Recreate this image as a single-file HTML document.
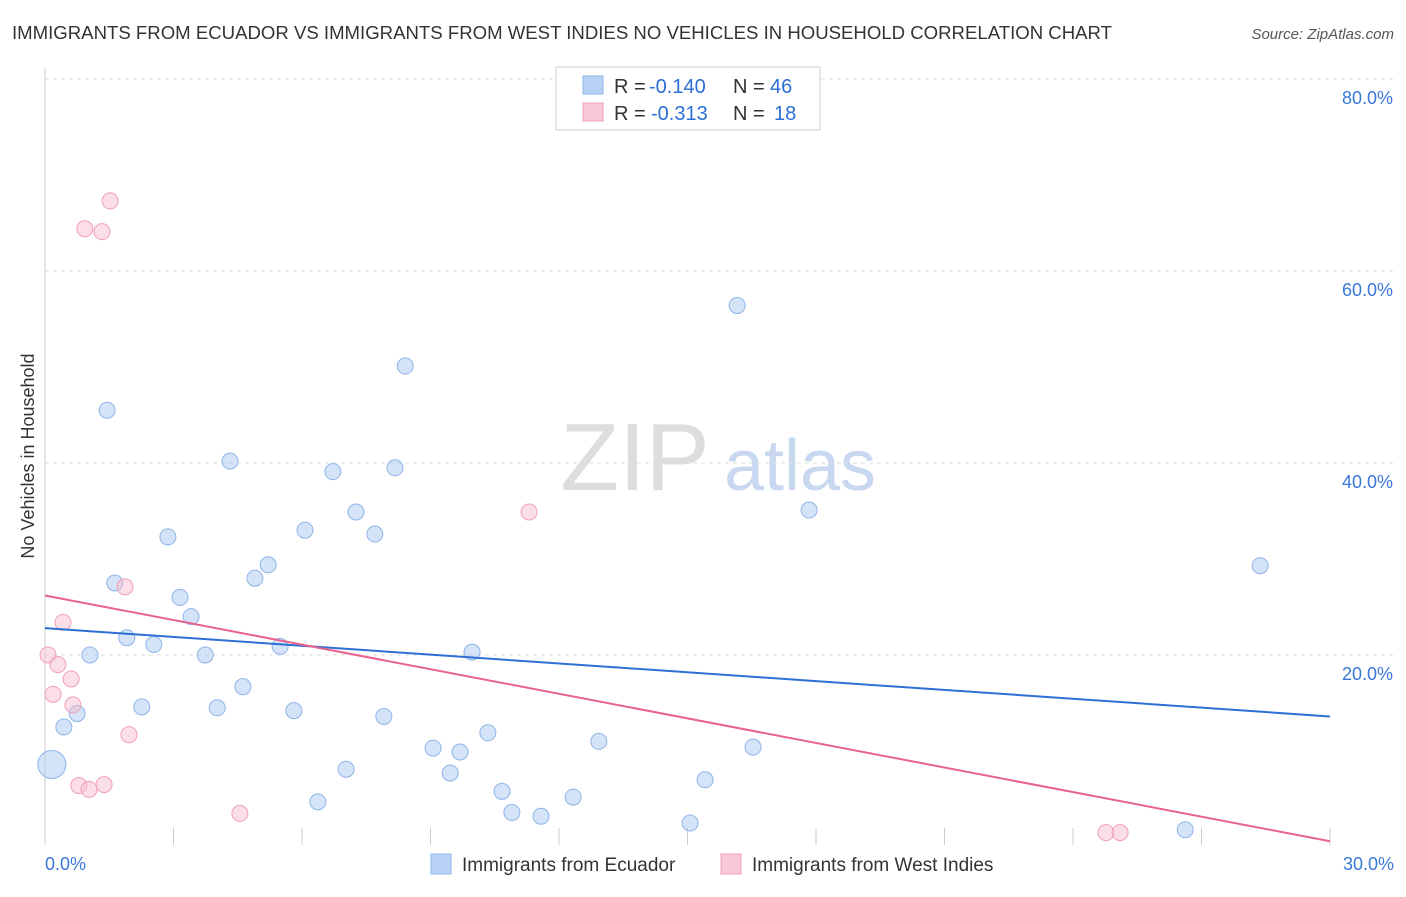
<!DOCTYPE html>
<html><head><meta charset="utf-8"><style>
body{margin:0;background:#fff;font-family:"Liberation Sans",sans-serif;}
svg text{font-family:"Liberation Sans",sans-serif;}
</style></head><body>
<svg id="chart" width="1406" height="892">
<text x="12" y="39" font-size="18" fill="#333" textLength="1100" lengthAdjust="spacingAndGlyphs">IMMIGRANTS FROM ECUADOR VS IMMIGRANTS FROM WEST INDIES NO VEHICLES IN HOUSEHOLD CORRELATION CHART</text>
<text x="1394" y="39" font-size="15" fill="#555" font-style="italic" text-anchor="end">Source: ZipAtlas.com</text>
<text x="34" y="456" font-size="18" fill="#333" text-anchor="middle" transform="rotate(-90 34 456)">No Vehicles in Household</text>
<g><text x="635" y="490" font-size="96" fill="#ddd" font-family="Liberation Serif" text-anchor="middle">ZIP</text><text x="800" y="490" font-size="72" fill="#c8d8f0" text-anchor="middle">atlas</text></g>
<g id="grid"></g><g id="marks"></g>
<g>
<rect x="556" y="67" width="264" height="63" fill="#fff" stroke="#ccc"/>
<rect x="583" y="76" width="20" height="18" fill="#b8d2f5" stroke="#8fb5e8"/>
<rect x="583" y="103" width="20" height="18" fill="#f9c8d6" stroke="#f0a0b8"/>
<text x="614" y="93" font-size="20" fill="#333">R =</text>
<text x="649" y="93" font-size="20" fill="#2c6fd6">-0.140</text>
<text x="733" y="93" font-size="20" fill="#333">N =</text>
<text x="770" y="93" font-size="20" fill="#2c6fd6">46</text>
<text x="614" y="120" font-size="20" fill="#333">R =</text>
<text x="651" y="120" font-size="20" fill="#2c6fd6">-0.313</text>
<text x="733" y="120" font-size="20" fill="#333">N =</text>
<text x="774" y="120" font-size="20" fill="#2c6fd6">18</text>
</g>
<g>
<rect x="431" y="854" width="20" height="20" fill="#b8d2f5" stroke="#8fb5e8"/>
<text x="462" y="871" font-size="19" fill="#333">Immigrants from Ecuador</text>
<rect x="721" y="854" width="20" height="20" fill="#f9c8d6" stroke="#f0a0b8"/>
<text x="752" y="871" font-size="19" fill="#333">Immigrants from West Indies</text>
</g>
</svg>
<script>
const blueX=[1.45,4.32,2.87,1.63,1.91,2.54,1.05,3.15,3.41,3.74,4.90,5.21,5.49,4.02,4.62,2.26,0.75,0.44,0.16,5.81,6.07,6.72,7.26,7.70,8.17,8.41,7.91,7.03,6.37,9.06,9.69,9.46,9.97,10.34,10.67,10.90,11.58,12.33,12.93,15.06,15.41,16.16,16.53,17.84,26.62,28.37];
const blueY=[45.5,40.2,32.3,27.5,21.8,21.1,20.0,26.0,24.0,20.0,28.0,29.4,20.9,14.5,16.7,14.6,13.9,12.5,8.6,14.2,33.0,39.1,34.9,32.6,39.5,50.1,13.6,8.1,4.7,10.3,9.9,7.7,20.3,11.9,5.8,3.6,3.2,5.2,11.0,2.5,7.0,56.4,10.4,35.1,1.8,29.3];
const pinkX=[1.52,0.93,1.33,11.30,1.87,0.42,0.07,0.30,0.61,0.19,0.65,1.96,0.79,1.03,1.38,4.55,24.77,25.10];
const pinkY=[67.3,64.4,64.1,34.9,27.1,23.4,20.0,19.0,17.5,15.9,14.8,11.7,6.4,6.0,6.5,3.5,1.5,1.5];
const blueTrend=[22.8,13.6];
const pinkTrend=[26.2,0.6];
const yTicks=[20,40,60,80];
const xTickLabels=["0.0%","30.0%"];
const X0=45,X1=1330,Y0=847,PX=(X1-X0)/30,PY=9.6;
const sx=v=>X0+v*PX, sy=v=>Y0-v*PY;
const NS="http://www.w3.org/2000/svg";
function mk(tag,attrs,parent){const e=document.createElementNS(NS,tag);for(const k in attrs)e.setAttribute(k,attrs[k]);parent.appendChild(e);return e;}
const grid=document.getElementById('grid'),marks=document.getElementById('marks');
yTicks.forEach(t=>{
 const l=mk('line',{x1:X0,x2:1394,y1:sy(t),y2:sy(t),stroke:'#ddd','stroke-dasharray':'4,4'},grid);
 
 
 const tx=mk('text',{x:1393,y:sy(t)+25,'font-size':18,fill:'#3a78d8','text-anchor':'end'},grid);
 tx.textContent=t.toFixed(1)+'%';
 
 
});
const ax=mk('line',{x1:X0,x2:X0,y1:68,y2:845,stroke:'#ccc'},grid);


for(let i=0;i<=10;i++){
 const t=mk('line',{x1:sx(i*3),x2:sx(i*3),y1:828,y2:845,stroke:'#ccc'},grid);
 
 
}
[[0,'start',X0],[30,'end',1394]].forEach((d,i)=>{
 const tx=mk('text',{x:d[2],y:870,'font-size':18,fill:'#3a78d8','text-anchor':d[1]},grid);
 tx.textContent=xTickLabels[i];
 
 
});
blueX.forEach((x,i)=>{
 const big=(x<0.3&&blueY[i]<10);
 const c=mk('circle',{cx:sx(x),cy:sy(blueY[i]),r:big?14:8,fill:'rgba(170,200,240,0.5)',stroke:'#8fb5e8','stroke-width':1},marks);
 
 
});
pinkX.forEach((x,i)=>{
 const c=mk('circle',{cx:sx(x),cy:sy(pinkY[i]),r:8,fill:'rgba(248,190,208,0.5)',stroke:'#f0a0b8','stroke-width':1},marks);
 
 
});
const bl=mk('line',{x1:sx(0),y1:sy(blueTrend[0]),x2:sx(30),y2:sy(blueTrend[1]),stroke:'#2c6fd6','stroke-width':2},marks);


const pl=mk('line',{x1:sx(0),y1:sy(pinkTrend[0]),x2:sx(30),y2:sy(pinkTrend[1]),stroke:'#e8628f','stroke-width':2},marks);


</script>
</body></html>
